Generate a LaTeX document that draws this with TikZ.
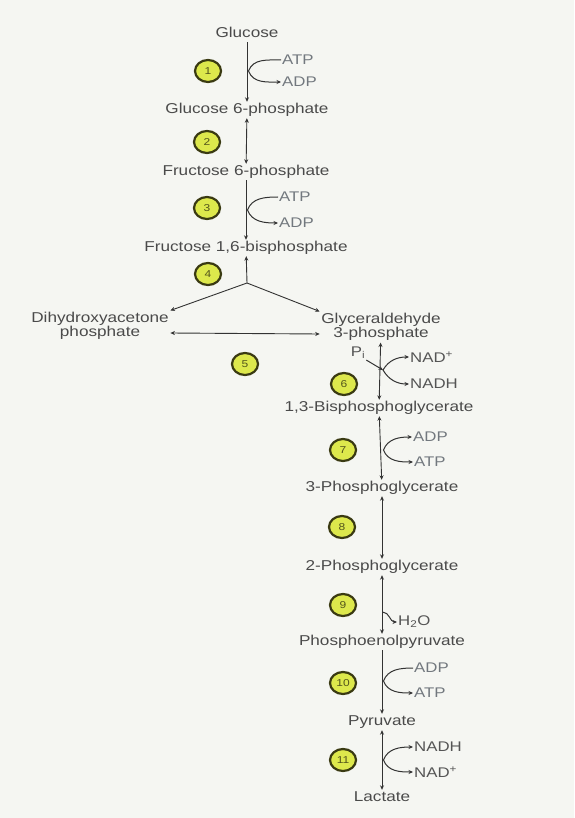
\documentclass[tikz,border=0pt]{standalone}
\usepackage{fontspec}
\setmainfont{Liberation Sans}[FakeStretch=1.2]
\usetikzlibrary{arrows.meta,shapes.geometric}
\definecolor{bg}{HTML}{F5F6F2}
\definecolor{txt}{HTML}{4A4A4A}
\definecolor{cofc}{HTML}{72787E}
\definecolor{nadc}{HTML}{555555}
\definecolor{ring}{HTML}{3A3A12}
\definecolor{yel}{HTML}{DDE84C}
\definecolor{ln}{HTML}{333333}
\begin{document}
\begin{tikzpicture}[x=1pt,y=-1pt,
  met2/.style={font=\fontsize{14.3}{13}\selectfont, text=txt, inner sep=1.5pt, align=center},
  met/.style={met2, text height=10pt, text depth=3pt},
  cofa/.style={font=\fontsize{14}{13}\selectfont, text=cofc, inner sep=1pt, anchor=west},
  nad/.style={cofa, text=nadc},
  num/.style={ellipse, draw=ring, line width=2.2pt, fill=yel, minimum width=26pt,
    minimum height=22pt, inner sep=0pt, font=\fontsize{10}{10}\selectfont, text=ring!85!yel},
  tip/.tip={Stealth[length=4.5pt,width=4pt]},
  rx/.style={draw=ln, line width=0.9pt, -tip},
  rxx/.style={draw=ln, line width=0.9pt, tip-tip},
  sidea/.style={draw=ln, line width=1pt, -tip},
  sideb/.style={draw=ln, line width=1pt, tip-tip}
]
\fill[bg] (0,0) rectangle (574,818);
\path[use as bounding box] (0,0) rectangle (574,818);

% metabolites
\node[met] (glc) at (247,34) {Glucose};
\node[met] (g6p) at (247,110) {Glucose 6-phosphate};
\node[met] (f6p) at (246,172) {Fructose 6-phosphate};
\node[met] (fbp) at (246,248) {Fructose 1,6-bisphosphate};
\node[met2] (dhap) at (100,326) {Dihydroxyacetone\\phosphate};
\node[met2] (gap) at (381,327) {Glyceraldehyde\\3-phosphate};
\node[met] (bpg) at (379,408) {1,3-Bisphosphoglycerate};
\node[met] (pg3) at (382,488) {3-Phosphoglycerate};
\node[met] (pg2) at (382,567) {2-Phosphoglycerate};
\node[met] (pep) at (382,642) {Phosphoenolpyruvate};
\node[met] (pyr) at (382,722) {Pyruvate};
\node[met] (lac) at (382,798) {Lactate};

% step numbers
\node[num] (n1) at (208,71) {1};
\node[num] (n2) at (207,142) {2};
\node[num] (n3) at (207,208) {3};
\node[num] (n4) at (208,274) {4};
\node[num] (n5) at (245,364) {5};
\node[num] (n6) at (344,384) {6};
\node[num] (n7) at (343,450) {7};
\node[num] (n8) at (342,527) {8};
\node[num] (n9) at (343,605) {9};
\node[num] (n10) at (343,683) {10};
\node[num] (n11) at (343,760) {11};

% cofactors
\node[cofa] (atp1) at (281,60) {ATP};
\node[cofa] (adp1) at (281,82) {ADP};
\node[cofa] (atp3) at (278,197) {ATP};
\node[cofa] (adp3) at (278,223) {ADP};
\node[cofa, text=nadc, anchor=center, inner sep=1pt] (pi) at (358,353) {P\textsubscript{i}};
\node[nad] (nad6) at (409,357) {NAD\textsuperscript{+}};
\node[nad] (nadh6) at (409,384) {NADH};
\node[cofa] (adp7) at (412,437) {ADP};
\node[cofa] (atp7) at (413,462) {ATP};
\node[nad] (h2o) at (397,622) {H\textsubscript{2}O};
\node[cofa] (adp10) at (413,668) {ADP};
\node[cofa] (atp10) at (413,693) {ATP};
\node[nad] (nadh11) at (413,747) {NADH};
\node[nad] (nad11) at (413,772) {NAD\textsuperscript{+}};

% axis points for side reactions
\coordinate (m1) at (248.5,71);
\coordinate (m3) at (247.5,210);
\coordinate (m6) at (383,370);
\coordinate (m7) at (383.5,450);
\coordinate (m9) at (382.5,612);
\coordinate (m10) at (383.5,681);
\coordinate (m11) at (383.5,760);
\coordinate (split) at (247,283);

% main arrows
\draw[rx] (glc) -- (g6p);
\draw[rxx] (g6p) -- (f6p);
\draw[rx] (f6p) -- (fbp);
\draw[rx] (split) -- (fbp);
\draw[rx] (split) -- (dhap.north east);
\draw[rx] (split) -- (gap.north west);
\draw[rxx] ([yshift=-7pt]dhap.east) -- ([yshift=-7pt]gap.west);
\draw[rxx] (gap) -- (bpg);
\draw[rxx] (bpg) -- (pg3);
\draw[rxx] (pg3) -- (pg2);
\draw[rxx] (pg2) -- (pep);
\draw[rx] (pep) -- (pyr);
\draw[rxx] (pyr) -- (lac);

% side reactions
\draw[sidea] (atp1.west) to[out=180,in=70] (m1) to[out=-70,in=180] (adp1.west);
\draw[sidea] (atp3.west) to[out=180,in=70] (m3) to[out=-70,in=180] (adp3.west);
\draw[sidea] (pi.south east) -- (m6);
\draw[sideb] (nad6.west) to[out=180,in=60] (m6) to[out=-60,in=180] (nadh6.west);
\draw[sideb] (adp7.west) to[out=180,in=70] (m7) to[out=-70,in=180] (atp7.west);
\draw[sidea] (m9) to[out=0,in=180] (h2o.west);
\draw[sidea] (adp10.west) to[out=180,in=70] (m10) to[out=-70,in=180] (atp10.west);
\draw[sideb] (nadh11.west) to[out=180,in=70] (m11) to[out=-70,in=180] (nad11.west);
\end{tikzpicture}
\end{document}
